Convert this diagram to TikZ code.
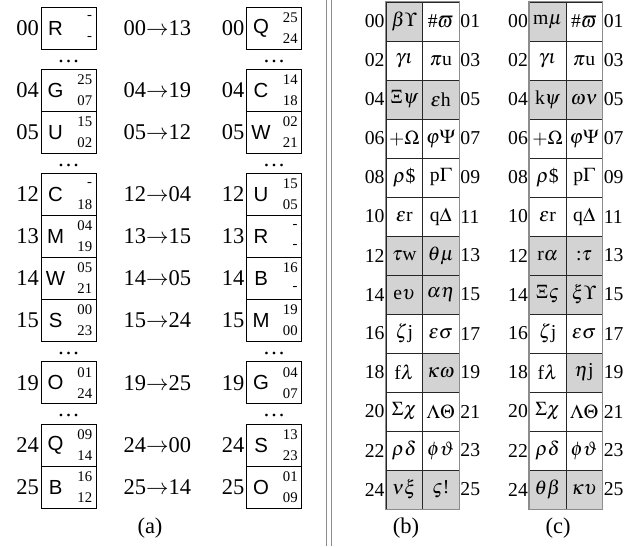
\documentclass[tikz,border=0pt]{standalone}
\usepackage{mathptmx}
\usepackage[no-math]{fontspec}
\setmainfont{Liberation Serif}
\setsansfont{Liberation Sans}
\usetikzlibrary{positioning}
\definecolor{cellshade}{HTML}{D3D3D3}
\definecolor{ruleline}{HTML}{8C8C8C}
\newcommand{\padnum}[1]{\ifnum#1<10 0\fi#1}
\tikzset{
  slot/.style={draw, line width=0.6pt, minimum width=13.75mm, minimum height=10.5mm, inner sep=0pt},
  glyph/.style={font=\sffamily\fontsize{14.5}{17}\selectfont, inner sep=0pt},
  link/.style={font=\fontsize{10.5}{12}\selectfont, inner sep=0pt, anchor=east},
  idx/.style={inner sep=1pt},
  tabidx/.style={inner sep=0.6pt, font=\fontsize{14}{16}\selectfont},
  pair/.style={draw=black!85, line width=0.5pt, minimum width=9.125mm, minimum height=9.75mm,
               inner sep=0pt, font=\fontsize{14}{16}\selectfont},
  cellw/.style={pair, fill=white},
  cellg/.style={pair, fill=cellshade},
  gapdots/.style={inner sep=0pt},
}

\begin{document}
\begin{tikzpicture}[font=\fontsize{16}{19}\selectfont]
  \useasboundingbox (0,0) rectangle (15.6,-13.65);
  % (a) slots before and after
  \foreach \y/\i/\a/\p/\q/\t/\b/\u/\v in {
      0.7/00/R/-/-/13/Q/25/24, 2.256/04/G/25/07/19/C/14/18, 3.306/05/U/15/02/12/W/02/21,
      4.8625/12/C/-/18/04/U/15/05, 5.9125/13/M/04/19/15/R/-/-, 6.9625/14/W/05/21/05/B/16/-,
      8.0125/15/S/00/23/24/M/19/00, 9.569/19/O/01/24/25/G/04/07, 11.125/24/Q/09/14/00/S/13/23,
      12.175/25/B/16/12/14/O/01/09} {
    \node[slot] (l\i) at (1.7125,-\y) {};
    \node[idx, anchor=east] (li\i) at (l\i.west) {\i};
    \node[glyph] (la\i) at ([xshift=3.75mm]l\i.west) {\a};
    \node[link] (lp\i) at ([xshift=-1mm, yshift=2.6mm]l\i.east) {\p};
    \node[link] (lq\i) at ([xshift=-1mm, yshift=-2.6mm]l\i.east) {\q};
    \node[idx, anchor=west] (m\i) at (3.05,-\y) {\i$\rightarrow$\t};
    \node[slot] (r\i) at (6.85,-\y) {};
    \node[idx, anchor=east] (ri\i) at (r\i.west) {\i};
    \node[glyph] (ra\i) at ([xshift=3.75mm]r\i.west) {\b};
    \node[link] (rp\i) at ([xshift=-1mm, yshift=2.6mm]r\i.east) {\u};
    \node[link] (rq\i) at ([xshift=-1mm, yshift=-2.6mm]r\i.east) {\v};
  }
  \foreach \y [count=\k] in {1.53, 4.13, 8.84, 10.39} {
    \node[gapdots] (dl\k) at (1.7125,-\y) {\dots};
    \node[gapdots] (dr\k) at (6.85,-\y) {\dots};
  }
  \node (capa) at (3.75,-13.2) {(a)};

  % separator
  \draw[ruleline, line width=0.6pt] (8.15,0) -- (8.15,-13.65);
  \draw[ruleline, line width=0.6pt] (8.275,0) -- (8.275,-13.65);

  % (b) table
  \foreach \sa/\ta/\sb/\tb [count=\r from 0] in {
      cellg/$\beta\Upsilon$/cellw/\#$\varpi$, cellw/$\gamma\iota$/cellw/$\pi$u,
      cellg/$\Xi\psi$/cellg/$\varepsilon$h, cellw/$+\Omega$/cellw/$\varphi\Psi$,
      cellw/$\rho$\$/cellw/p$\Gamma$, cellw/$\varepsilon$r/cellw/q$\Delta$,
      cellg/$\tau$w/cellg/$\theta\mu$, cellg/e$\upsilon$/cellg/$\alpha\eta$,
      cellw/$\zeta$j/cellw/$\varepsilon\sigma$, cellw/f$\lambda$/cellg/$\kappa\omega$,
      cellw/$\Sigma\chi$/cellw/$\Lambda\Theta$, cellw/$\rho\delta$/cellw/$\phi\vartheta$,
      cellg/$\nu\xi$/cellg/$\varsigma$!} {
    \pgfmathsetmacro{\yy}{0.05+0.975*(\r+0.5)}
    \pgfmathtruncatemacro{\na}{2*\r}
    \pgfmathtruncatemacro{\nb}{2*\r+1}
    \node[\sa] (b\r a) at (10.106,-\yy) {\ta};
    \node[\sb] (b\r b) at (11.019,-\yy) {\tb};
    \node[tabidx, anchor=east] (bl\r) at (b\r a.west) {\padnum{\na}};
    \node[tabidx, anchor=west] (br\r) at (b\r b.east) {\padnum{\nb}};
  }
  \draw[ruleline, line width=0.8pt] (b0a.north west) rectangle (b12b.south east);
  \node (capb) at (10.15,-13.2) {(b)};

  % (c) table
  \foreach \sa/\ta/\sb/\tb [count=\r from 0] in {
      cellg/m$\mu$/cellw/\#$\varpi$, cellw/$\gamma\iota$/cellw/$\pi$u,
      cellg/k$\psi$/cellg/$\omega\nu$, cellw/$+\Omega$/cellw/$\varphi\Psi$,
      cellw/$\rho$\$/cellw/p$\Gamma$, cellw/$\varepsilon$r/cellw/q$\Delta$,
      cellg/r$\alpha$/cellg/:$\tau$, cellg/$\Xi\varsigma$/cellg/$\xi\Upsilon$,
      cellw/$\zeta$j/cellw/$\varepsilon\sigma$, cellw/f$\lambda$/cellg/$\eta$j,
      cellw/$\Sigma\chi$/cellw/$\Lambda\Theta$, cellw/$\rho\delta$/cellw/$\phi\vartheta$,
      cellg/$\theta\beta$/cellg/$\kappa\upsilon$} {
    \pgfmathsetmacro{\yy}{0.05+0.975*(\r+0.5)}
    \pgfmathtruncatemacro{\na}{2*\r}
    \pgfmathtruncatemacro{\nb}{2*\r+1}
    \node[\sa] (c\r a) at (13.69,-\yy) {\ta};
    \node[\sb] (c\r b) at (14.6025,-\yy) {\tb};
    \node[tabidx, anchor=east] (cl\r) at (c\r a.west) {\padnum{\na}};
    \node[tabidx, anchor=west] (cr\r) at (c\r b.east) {\padnum{\nb}};
  }
  \draw[ruleline, line width=0.8pt] (c0a.north west) rectangle (c12b.south east);
  \node (capc) at (13.95,-13.2) {(c)};
\end{tikzpicture}
\end{document}
